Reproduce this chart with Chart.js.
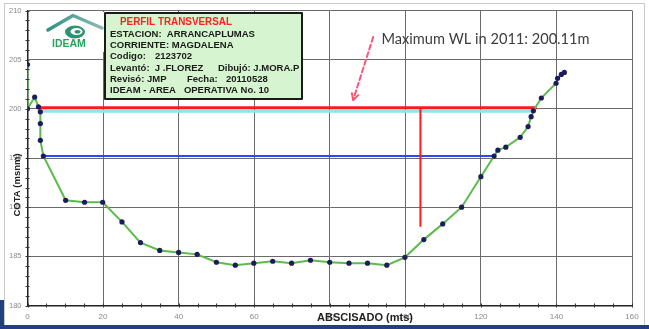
<!DOCTYPE html>
<html>
<head>
<meta charset="utf-8">
<title>Perfil transversal - Arrancaplumas</title>
<script src="https://cdn.jsdelivr.net/npm/chart.js@4.4.1/dist/chart.umd.min.js"></script>
<style>
  html, body { margin: 0; padding: 0; background: #ffffff; }
  #wrap { width: 649px; height: 329px; }
</style>
</head>
<body>
<div id="wrap"><canvas id="perfil" width="649" height="329"></canvas></div>
<script>
// Cross-section survey: abscissa (m) and bed elevation (m a.s.l.)
const abscisa = [0, 0, 1.9, 2.9, 3.4, 3.4, 3.4, 4.2, 10.1, 15.1, 19.9, 25.0, 29.9, 35.0, 40.0, 44.9,
  50.0, 55.0, 59.9, 64.9, 69.9, 74.9, 80.0, 85.1, 90.0, 95.1, 99.9, 104.9, 109.9, 114.9, 120.0,
  123.5, 124.5, 126.6, 130.4, 132.5, 133.3, 133.9, 136.0, 139.9, 140.3, 141.3, 142.1];
const cota = [204.5, 200.0, 201.2, 200.2, 199.7, 198.5, 196.8, 195.2, 190.7, 190.5, 190.5, 188.5, 186.4, 185.6, 185.4, 185.2,
  184.4, 184.1, 184.3, 184.5, 184.3, 184.6, 184.4, 184.3, 184.3, 184.1, 184.9, 186.7, 188.3, 190.0, 193.1,
  195.2, 195.8, 196.1, 197.1, 198.2, 199.2, 199.8, 201.1, 202.6, 203.1, 203.5, 203.7];

// Water levels and their horizontal extent across the section
const maxWL = 200.11;
const maxWLSpan = [2.7, 134.8];
const cyanLevel = 199.75;
const cyanSpan = [3.2, 134.1];
const blueLevel = 195.2;
const blueSpan = [4.3, 123.5];
// Vertical marker below the maximum level
const markerX = 104;
const markerRange = [maxWL, 188.0];

// Axis ranges and tick steps
const xRange = [0, 160];
const yRange = [180, 210];
const xStep = 20, yStep = 5;
const xMinorStep = 5, yMinorStep = 1;

// Annotation: callout arrow (start/end in data units) and label anchor
const calloutText = 'Maximum WL in 2011: 200.11m';
const calloutAnchor = [93.7, 207.05];
const arrowFrom = [91.5, 207.3];
const arrowTo = [86.2, 200.9];

// Station information box lines
const infoTitle = 'PERFIL TRANSVERSAL';
const infoLines = [
  ['ESTACION:  ARRANCAPLUMAS'],
  ['CORRIENTE: MAGDALENA'],
  ['Codigo:', '2123702'],
  ['Levantó:  J .FLOREZ', 'Dibujó: J.MORA.P'],
  ['Revisó: JMP', 'Fecha:', '20110528'],
  ['IDEAM - AREA   OPERATIVA No. 10']
];

const profilePoints = abscisa.map((x, i) => ({ x, y: cota[i] }));
const hLine = (span, level) => [{ x: span[0], y: level }, { x: span[1], y: level }];

const FONT = '"Liberation Sans", Arial, sans-serif';

const decor = {
  id: 'decor',
  beforeDraw(chart) {
    const c = chart.ctx;
    c.save();
    c.fillStyle = '#ffffff';
    c.fillRect(0, 0, chart.width, chart.height);
    c.restore();
  },
  afterDraw(chart) {
    const c = chart.ctx;
    const xs = chart.scales.x, ys = chart.scales.y;
    const area = chart.chartArea;
    c.save();

    // minor ticks on both axes
    c.strokeStyle = '#333';
    c.lineWidth = 1;
    for (let v = xRange[0]; v <= xRange[1]; v += xMinorStep) {
      const px = Math.round(xs.getPixelForValue(v)) + 0.5;
      c.beginPath(); c.moveTo(px, area.bottom - 2); c.lineTo(px, area.bottom + 2); c.stroke();
    }
    for (let v = yRange[0]; v <= yRange[1]; v += yMinorStep) {
      const py = Math.round(ys.getPixelForValue(v)) + 0.5;
      c.beginPath(); c.moveTo(area.left - 2, py); c.lineTo(area.left + 2, py); c.stroke();
    }

    // IDEAM logo: roof, swirl and name
    c.fillStyle = '#ffffff';
    c.fillRect(40, 12, 64, 40);
    c.lineCap = 'round';
    c.lineJoin = 'round';
    const roof = c.createLinearGradient(48, 0, 102, 0);
    roof.addColorStop(0, '#2f9384');
    roof.addColorStop(1, '#8fb8b4');
    c.strokeStyle = roof;
    c.lineWidth = 3.5;
    c.beginPath(); c.moveTo(48, 30); c.lineTo(73, 15.5); c.lineTo(102, 28); c.stroke();
    c.fillStyle = '#2e9170';
    c.beginPath(); c.ellipse(75, 32, 10, 6.5, 0, 0, Math.PI * 2); c.fill();
    c.fillStyle = '#ffffff';
    c.beginPath(); c.ellipse(76.5, 31.5, 6, 3.6, 0, 0, Math.PI * 2); c.fill();
    c.fillStyle = '#2e9170';
    c.beginPath(); c.ellipse(77.5, 31.8, 3, 1.8, 0, 0, Math.PI * 2); c.fill();
    c.fillStyle = '#26a35c';
    c.font = 'bold 10.5px ' + FONT;
    c.textAlign = 'left'; c.textBaseline = 'middle';
    c.fillText('IDEAM', 52, 44.5, 47);

    // station information box
    c.fillStyle = '#d6f4cf';
    c.fillRect(105, 13, 197, 86);
    c.strokeStyle = '#1a1a1a';
    c.lineWidth = 2;
    c.strokeRect(105, 13, 197, 86);
    c.fillStyle = '#ff2020';
    c.font = 'bold 10px ' + FONT;
    c.fillText(infoTitle, 120, 22.7, 112);
    c.fillStyle = '#1a1a1a';
    c.font = 'bold 9.5px ' + FONT;
    const rowY = [34, 45, 56.5, 68, 79.5, 90.5];
    const colX = [[110], [110], [110, 155], [110, 218], [110, 187, 226], [110]];
    infoLines.forEach((parts, i) => {
      parts.forEach((t, j) => c.fillText(t, colX[i][j], rowY[i]));
    });

    // axis titles
    c.fillStyle = '#222';
    c.font = 'bold 11px ' + FONT;
    c.textAlign = 'left';
    c.fillText('ABSCISADO (mts)', 317, 318, 97);
    c.save();
    c.translate(17, 185);
    c.rotate(-Math.PI / 2);
    c.textAlign = 'center';
    c.font = 'bold 9.5px ' + FONT;
    c.fillText('COTA (msnm)', 0, 0);
    c.restore();

    // callout label and dashed arrow
    c.fillStyle = '#3c3c3c';
    let size = 15;
    c.font = size + 'px Lato, "Open Sans", sans-serif';
    const w = c.measureText(calloutText).width;
    size = size * 208 / w;
    c.font = size.toFixed(2) + 'px Lato, "Open Sans", sans-serif';
    c.textAlign = 'left'; c.textBaseline = 'middle';
    c.fillText(calloutText, xs.getPixelForValue(calloutAnchor[0]), ys.getPixelForValue(calloutAnchor[1]));

    const ax0 = xs.getPixelForValue(arrowFrom[0]), ay0 = ys.getPixelForValue(arrowFrom[1]);
    const ax1 = xs.getPixelForValue(arrowTo[0]), ay1 = ys.getPixelForValue(arrowTo[1]);
    c.strokeStyle = '#ff5573';
    c.lineWidth = 2;
    c.setLineDash([5, 3]);
    c.beginPath(); c.moveTo(ax0, ay0); c.lineTo(ax1, ay1); c.stroke();
    c.setLineDash([]);
    const ang = Math.atan2(ay1 - ay0, ax1 - ax0);
    c.beginPath();
    c.moveTo(ax1 - 7 * Math.cos(ang - 0.5), ay1 - 7 * Math.sin(ang - 0.5));
    c.lineTo(ax1, ay1);
    c.lineTo(ax1 - 7 * Math.cos(ang + 0.5), ay1 - 7 * Math.sin(ang + 0.5));
    c.stroke();

    // frame of the picture and the band along the bottom
    c.strokeStyle = '#c8c8c8';
    c.lineWidth = 1;
    c.beginPath(); c.moveTo(4.5, 325); c.lineTo(4.5, 3.5); c.lineTo(644.5, 3.5); c.lineTo(644.5, 325); c.stroke();
    c.fillStyle = '#23407e';
    c.fillRect(0, 325, chart.width, 4);
    c.fillRect(0, 300, 4, 29);
    c.restore();
  }
};

new Chart(document.getElementById('perfil'), {
  type: 'scatter',
  data: {
    datasets: [
      {
        label: 'Perfil',
        data: profilePoints,
        showLine: true,
        borderColor: '#5bbb4c',
        borderWidth: 2,
        pointRadius: 2.6,
        pointBackgroundColor: '#1c1c5c',
        pointBorderColor: '#1c1c5c',
        pointBorderWidth: 0
      },
      {
        label: 'Nivel máximo',
        data: hLine(maxWLSpan, maxWL),
        showLine: true, borderColor: '#ff1a1a', borderWidth: 3, pointRadius: 0
      },
      {
        label: 'Marcador',
        data: [{ x: markerX, y: markerRange[0] }, { x: markerX, y: markerRange[1] }],
        showLine: true, borderColor: '#ff1a1a', borderWidth: 2, pointRadius: 0
      },
      {
        label: 'Nivel 2',
        data: hLine(cyanSpan, cyanLevel),
        showLine: true, borderColor: '#8ee6e8', borderWidth: 3, pointRadius: 0
      },
      {
        label: 'Nivel 3',
        data: hLine(blueSpan, blueLevel),
        showLine: true, borderColor: '#3344ff', borderWidth: 2, pointRadius: 0
      }
    ]
  },
  options: {
    responsive: false,
    animation: false,
    devicePixelRatio: 1,
    layout: { padding: { top: 10, right: 17, left: 0, bottom: 0 } },
    plugins: { legend: { display: false }, tooltip: { enabled: false } },
    scales: {
      x: {
        type: 'linear',
        min: xRange[0], max: xRange[1],
        afterFit(scale) { scale.height = 23.5; },
        ticks: { stepSize: xStep, padding: 6, color: '#8a8a8a', font: { size: 8, family: FONT } },
        grid: { color: '#6a6a6a', lineWidth: 1, drawTicks: false },
        border: { color: '#222', width: 1.5 }
      },
      y: {
        type: 'linear',
        min: yRange[0], max: yRange[1],
        afterFit(scale) { scale.width = 27.5; },
        ticks: { stepSize: yStep, padding: 6, color: '#8a8a8a', font: { size: 7.5, family: FONT } },
        grid: { color: '#6a6a6a', lineWidth: 1, drawTicks: false },
        border: { color: '#222', width: 1.5 }
      }
    }
  },
  plugins: [decor]
});
</script>
</body>
</html>
